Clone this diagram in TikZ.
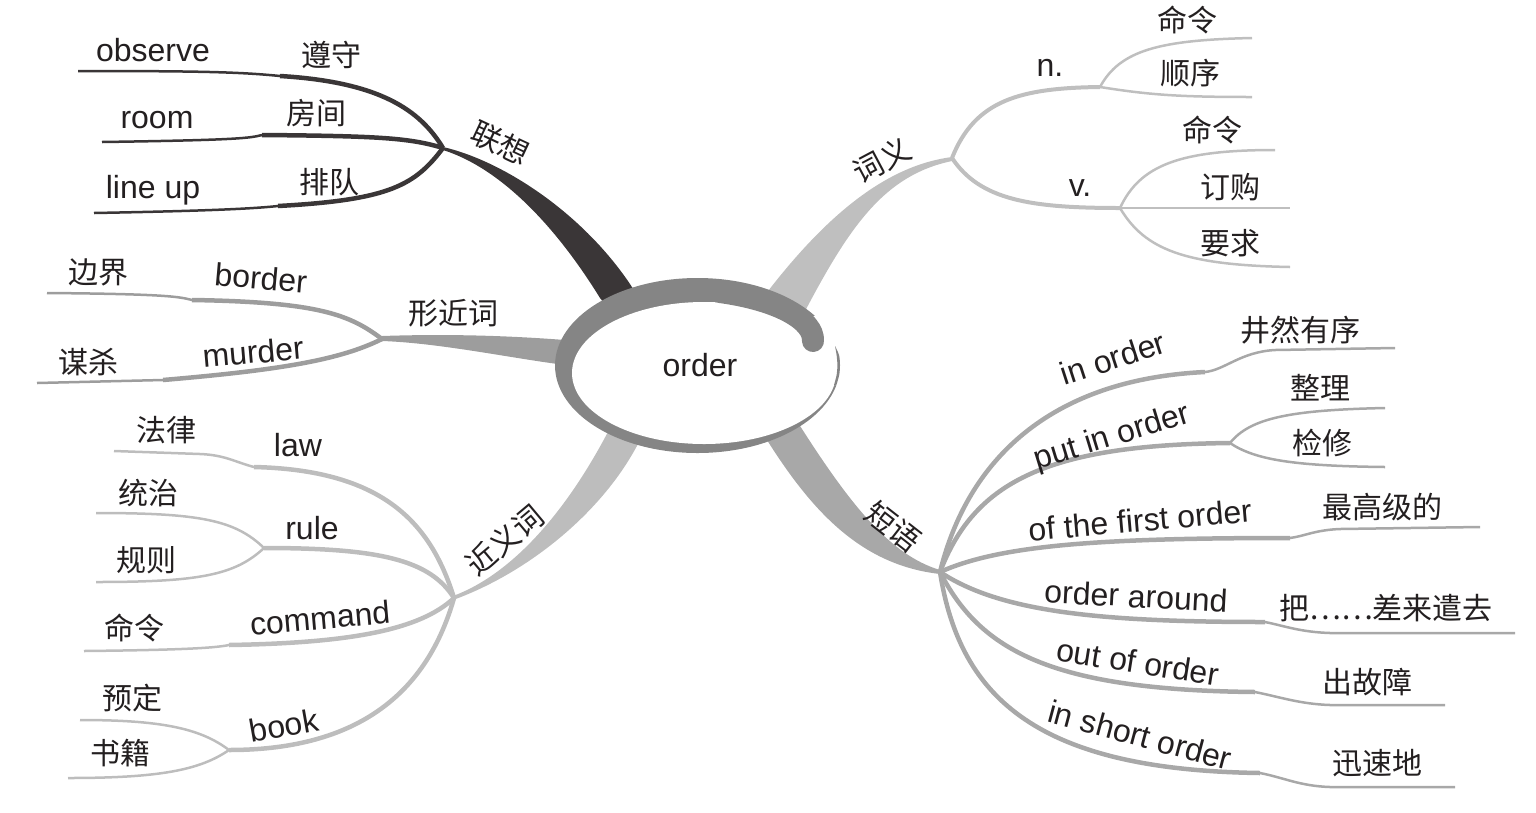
\documentclass[tikz,border=0pt]{standalone}
\usepackage{fontspec}
\setmainfont{Liberation Sans}
\newfontfamily\cjk{Noto Sans CJK SC}
\definecolor{dark}{HTML}{3A3637}
\definecolor{xjc}{HTML}{9D9D9D}
\definecolor{jyc}{HTML}{BDBDBD}
\definecolor{cyc}{HTML}{BFBFBF}
\definecolor{dyc}{HTML}{A8A8A8}
\definecolor{ringc}{HTML}{858585}
\definecolor{txt}{HTML}{231F20}
\tikzset{
  en/.style={font=\fontsize{32}{36}\selectfont, text=txt, inner sep=0pt},
  zh/.style={font=\cjk\fontsize{30}{34}\selectfont, text=txt, inner sep=0pt},
  lxa/.style={draw=dark, line width=4.5pt},
  lxb/.style={draw=dark, line width=2.5pt},
  xja/.style={draw=xjc, line width=4.5pt},
  xjb/.style={draw=xjc, line width=2.5pt},
  jya/.style={draw=jyc, line width=4.5pt},
  jyb/.style={draw=jyc, line width=2.5pt},
  cya/.style={draw=cyc, line width=4pt},
  cyb/.style={draw=cyc, line width=2.5pt},
  dya/.style={draw=dyc, line width=4.5pt},
  dyb/.style={draw=dyc, line width=2.5pt},
}
\begin{document}
\begin{tikzpicture}[x=1pt,y=-1pt]
\useasboundingbox (0,0) rectangle (1536,812);
% hubs
\coordinate (h1) at (443,148);
\coordinate (h2) at (382,339);
\coordinate (h3) at (454,598);
\coordinate (h4) at (952,158);
\coordinate (h5) at (940,572);
% ---------- main branches ----------
\fill[dark] (443,147) .. controls (500,160) and (580,210) .. (630,284) -- (640,300) -- (610,310) -- (600,298) .. controls (555,225) and (500,168) .. (443,150) -- cycle;
\fill[xjc] (382,336) .. controls (440,334) and (500,335) .. (565,340) -- (565,365) .. controls (510,358) and (440,343) .. (382,341) -- cycle;
\fill[jyc] (453,596) .. controls (510,575) and (565,515) .. (610,428) -- (640,440) .. controls (605,510) and (530,572) .. (453,600) -- cycle;
\fill[cyc] (952,157) .. controls (890,165) and (830,210) .. (765,295) -- (803,315) .. controls (850,225) and (885,175) .. (952,161) -- cycle;
\fill[dyc] (940,570) .. controls (890,555) and (850,505) .. (795,418) -- (762,432) .. controls (810,510) and (860,565) .. (940,574) -- cycle;
% ---------- 联想 ----------
\coordinate (s11) at (280,76);  \coordinate (e11) at (78,71);
\coordinate (s12) at (262,135); \coordinate (e12) at (102,142);
\coordinate (s13) at (278,206); \coordinate (e13) at (94,213);
\draw[lxa] (h1) .. controls (420,110) and (380,82) .. (s11);
\draw[lxb] (s11) .. controls (240,72) and (200,71) .. (e11);
\draw[lxa] (h1) .. controls (410,138) and (380,136) .. (s12);
\draw[lxb] (s12) .. controls (250,138) and (240,140) .. (e12);
\draw[lxa] (h1) .. controls (415,185) and (390,200) .. (s13);
\draw[lxb] (s13) .. controls (250,209) and (200,211) .. (e13);
% ---------- 形近词 ----------
\coordinate (s21) at (192,300); \coordinate (e21) at (47,293);
\coordinate (s22) at (163,380); \coordinate (e22) at (37,383);
\draw[xja] (h2) .. controls (350,315) and (320,302) .. (s21);
\draw[xjb] (s21) .. controls (180,297) and (170,294) .. (e21);
\draw[xja] (h2) .. controls (340,360) and (280,370) .. (s22);
\draw[xjb] (s22) -- (e22);
% ---------- 近义词 ----------
\coordinate (s31) at (254,467); \coordinate (t31) at (200,454); \coordinate (e31) at (114,451);
\coordinate (r3) at (264,548); \coordinate (e32) at (96,513); \coordinate (e33) at (96,582);
\coordinate (s34) at (229,645); \coordinate (e34) at (84,651);
\coordinate (b3) at (229,750); \coordinate (e35) at (80,720); \coordinate (e36) at (68,778);
\draw[jya] (h3) .. controls (430,520) and (380,470) .. (s31);
\draw[jyb] (s31) .. controls (235,462) and (225,455) .. (t31) -- (e31);
\draw[jya] (h3) .. controls (430,560) and (380,548) .. (r3);
\draw[jyb] (r3) .. controls (235,520) and (200,513) .. (e32);
\draw[jyb] (r3) .. controls (235,575) and (200,582) .. (e33);
\draw[jya] (h3) .. controls (420,630) and (350,643) .. (s34);
\draw[jyb] (s34) .. controls (215,648) and (180,650) .. (e34);
\draw[jya] (h3) .. controls (425,700) and (350,750) .. (b3);
\draw[jyb] (b3) .. controls (200,728) and (160,720) .. (e35);
\draw[jyb] (b3) .. controls (200,770) and (160,778) .. (e36);
% ---------- 词义 ----------
\coordinate (nh) at (1100,87); \coordinate (e41) at (1252,38); \coordinate (e42) at (1252,97);
\coordinate (vh) at (1120,208); \coordinate (e43) at (1275,150); \coordinate (e44) at (1290,208); \coordinate (e45) at (1290,267);
\draw[cya] (h4) .. controls (975,100) and (1020,88) .. (nh);
\draw[cyb] (nh) .. controls (1120,50) and (1160,40) .. (e41);
\draw[cyb] (nh) .. controls (1150,95) and (1180,97) .. (e42);
\draw[cya] (h4) .. controls (980,200) and (1030,208) .. (vh);
\draw[cyb] (vh) .. controls (1140,165) and (1180,150) .. (e43);
\draw[cyb] (vh) -- (e44);
\draw[cyb] (vh) .. controls (1145,250) and (1185,265) .. (e45);
% ---------- 短语 ----------
\coordinate (s51) at (1205,372); \coordinate (t51) at (1275,350); \coordinate (e51) at (1395,348);
\coordinate (ph) at (1230,443); \coordinate (e52) at (1385,408); \coordinate (e53) at (1385,467);
\coordinate (s54) at (1290,538); \coordinate (t54) at (1340,529); \coordinate (e54) at (1480,527);
\coordinate (s55) at (1265,622); \coordinate (t55) at (1330,633); \coordinate (e55) at (1515,633);
\coordinate (s56) at (1255,692); \coordinate (t56) at (1330,705); \coordinate (e56) at (1445,705);
\coordinate (s57) at (1260,773); \coordinate (t57) at (1330,787); \coordinate (e57) at (1455,787);
\draw[dya] (h5) .. controls (965,470) and (1040,380) .. (s51);
\draw[dyb] (s51) .. controls (1225,370) and (1240,352) .. (t51) -- (e51);
\draw[dya] (h5) .. controls (975,480) and (1050,445) .. (ph);
\draw[dyb] (ph) .. controls (1250,418) and (1290,410) .. (e52);
\draw[dyb] (ph) .. controls (1255,460) and (1295,466) .. (e53);
\draw[dya] (h5) .. controls (1000,545) and (1100,538) .. (s54);
\draw[dyb] (s54) .. controls (1305,536) and (1315,530) .. (t54) -- (e54);
\draw[dya] (h5) .. controls (1000,612) and (1100,622) .. (s55);
\draw[dyb] (s55) .. controls (1285,626) and (1300,632) .. (t55) -- (e55);
\draw[dya] (h5) .. controls (980,650) and (1050,690) .. (s56);
\draw[dyb] (s56) .. controls (1280,697) and (1300,704) .. (t56) -- (e56);
\draw[dya] (h5) .. controls (960,700) and (1040,770) .. (s57);
\draw[dyb] (s57) .. controls (1285,778) and (1300,786) .. (t57) -- (e57);
% ---------- centre ring ----------
\fill[ringc] (697.5,365.5) ellipse [x radius=142.5, y radius=87.5];
\fill[white] (704,373) ellipse [x radius=132, y radius=71];
\fill[white] (812,316) -- (825,316) -- (856,330) -- (856,385) -- (812,385) -- cycle;
\fill[ringc] plot[smooth] coordinates {(835,346) (839,355) (840,365) (839.2,375) (836.4,385)}
  -- plot[smooth] coordinates {(834,385) (836.6,375) (837.4,365) (836.6,355) (835,346)} -- cycle;
\draw[ringc, line width=22pt, line cap=round] (720,292) .. controls (778,300) and (814,320) .. (813,341);
\node[en] (order) at (700,365) {order};
% ---------- labels ----------
\node[zh, rotate=-25] (lx) at (500,143) {联想};
\node[en] (observe) at (153,50) {observe};
\node[zh] (zunshou) at (331,55) {遵守};
\node[en] (room) at (157,120) {room};
\node[zh] (fangjian) at (316,113) {房间};
\node[en] (lineup) at (153,190) {line up};
\node[zh] (paidui) at (329,182) {排队};
\node[zh] (xjc) at (453,313) {形近词};
\node[zh] (bianjie) at (98,272) {边界};
\node[en, rotate=-5] (border) at (261,278) {border};
\node[zh] (mousha) at (88,362) {谋杀};
\node[en, rotate=5] (murder) at (253,352) {murder};
\node[zh, rotate=40] (jyc) at (505,540) {近义词};
\node[zh] (falv) at (166,430) {法律};
\node[en] (law) at (298,445) {law};
\node[zh] (tongzhi) at (148,493) {统治};
\node[zh] (guize) at (146,560) {规则};
\node[en] (rule) at (312,528) {rule};
\node[zh] (mingling1) at (134,628) {命令};
\node[en, rotate=5] (command) at (320,618) {command};
\node[zh] (yuding) at (132,698) {预定};
\node[zh] (shuji) at (120,753) {书籍};
\node[en, rotate=10] (book) at (284,725) {book};
\node[zh, rotate=28] (cy) at (882,160) {词义};
\node[en] (n) at (1050,68) {n.};
\node[zh] (mingling2) at (1187,20) {命令};
\node[zh] (shunxu) at (1190,73) {顺序};
\node[en] (v) at (1080,188) {v.};
\node[zh] (mingling3) at (1212,130) {命令};
\node[zh] (dinggou) at (1230,187) {订购};
\node[zh] (yaoqiu) at (1230,243) {要求};
\node[zh, rotate=-38] (dy) at (893,527) {短语};
\node[en, rotate=18] (inorder) at (1113,358) {in order};
\node[zh] (jingran) at (1300,330) {井然有序};
\node[en, rotate=17] (putinorder) at (1112,438) {put in order};
\node[zh] (zhengli) at (1320,388) {整理};
\node[zh] (jianxiu) at (1322,443) {检修};
\node[en, rotate=5] (first) at (1140,520) {of the first order};
\node[zh] (zuigao) at (1382,507) {最高级的};
\node[en, rotate=-3] (around) at (1136,596) {order around};
\node[zh] (chailai) at (1386,608) {把……差来遣去};
\node[en, rotate=-9] (outof) at (1138,662) {out of order};
\node[zh] (chugu) at (1367,682) {出故障};
\node[en, rotate=-15] (short) at (1140,735) {in short order};
\node[zh] (xunsu) at (1377,763) {迅速地};
\end{tikzpicture}
\end{document}
